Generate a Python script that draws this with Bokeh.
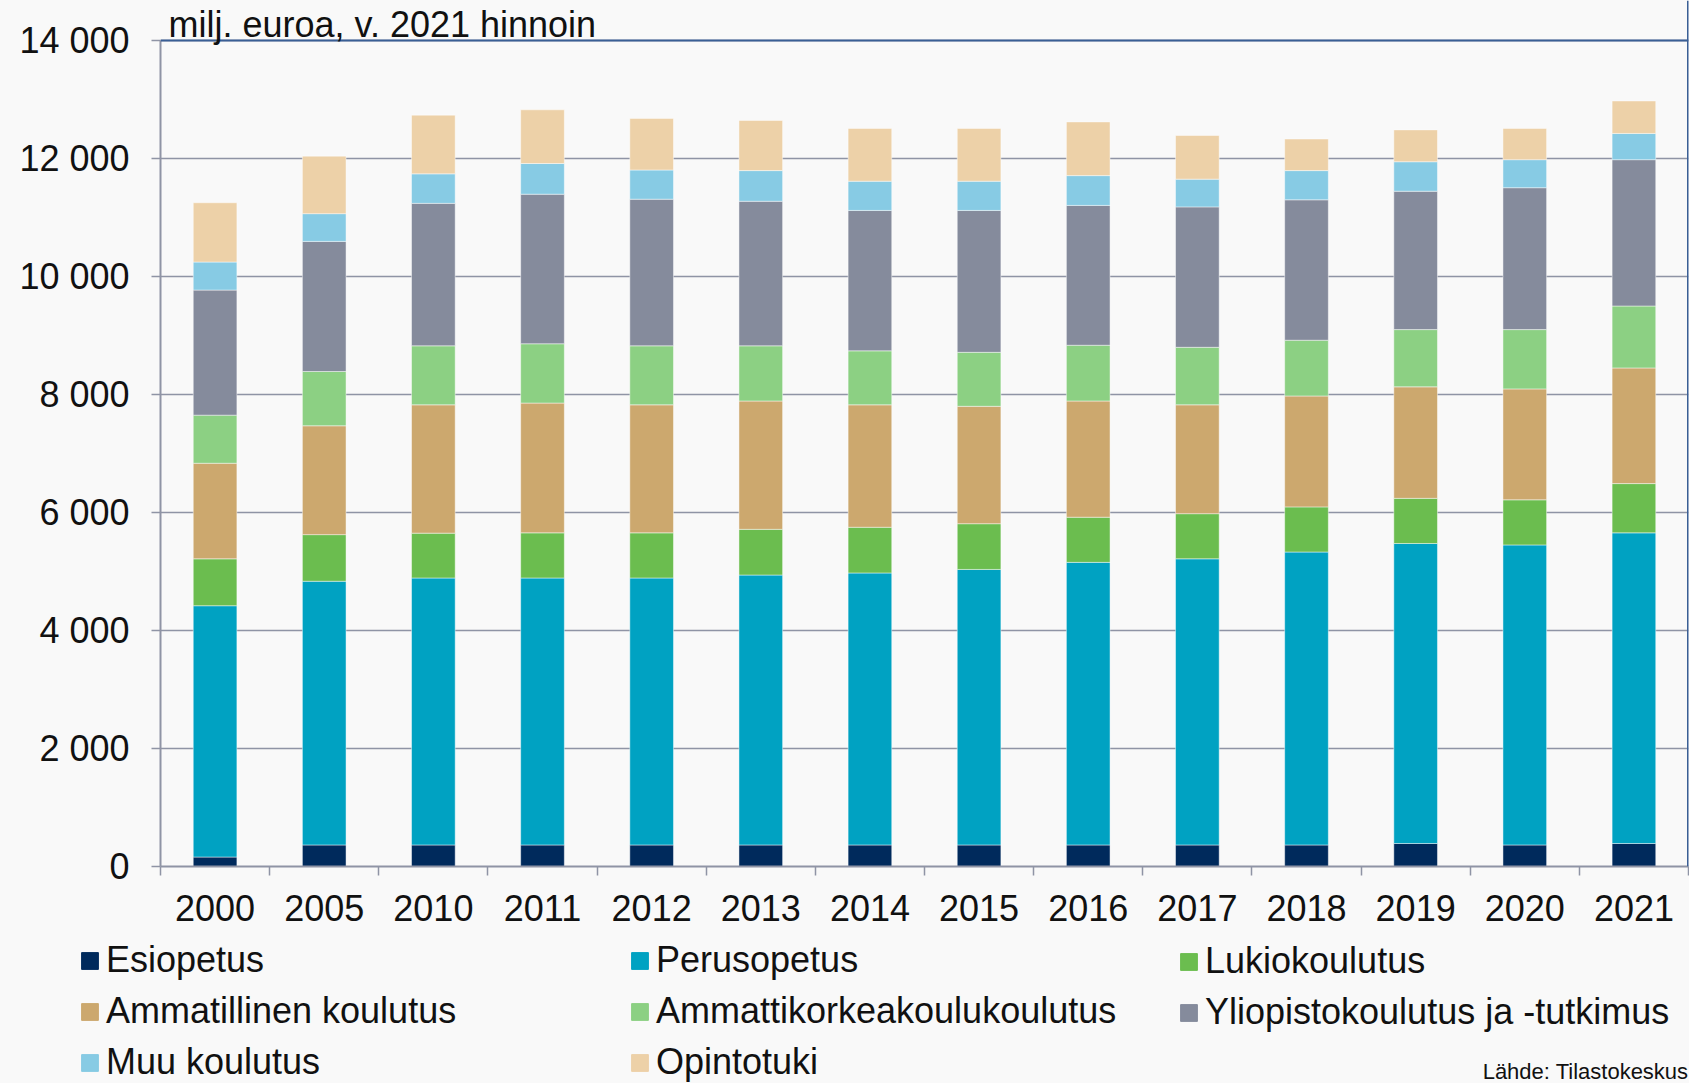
from bokeh.plotting import figure
from bokeh.layouts import column
from bokeh.models import (FixedTicker, CustomJSTickFormatter, Span, Label, Legend,
                          LegendItem, Range1d)
from bokeh.embed import file_html
from bokeh.resources import INLINE

years = ["2000", "2005", "2010", "2011", "2012", "2013", "2014",
         "2015", "2016", "2017", "2018", "2019", "2020", "2021"]
esiopetus    = [160, 365, 365, 365, 365, 365, 365, 365, 365, 365, 365, 390, 365, 390]
perusopetus  = [4260, 4470, 4525, 4525, 4525, 4575, 4610, 4670, 4790, 4850, 4965, 5085, 5085, 5265]
lukio        = [795, 790, 760, 765, 765, 775, 775, 775, 765, 765, 765, 765, 765, 835]
ammatillinen = [1620, 1845, 2175, 2200, 2170, 2175, 2075, 1990, 1970, 1845, 1880, 1890, 1880, 1960]
amk          = [815, 920, 1000, 1005, 1000, 935, 915, 915, 945, 975, 945, 970, 1005, 1050]
yliopisto    = [2120, 2205, 2415, 2535, 2485, 2450, 2380, 2405, 2370, 2380, 2380, 2345, 2405, 2480]
muu          = [475, 470, 500, 520, 495, 520, 495, 495, 505, 470, 495, 500, 475, 445]
opintotuki   = [1005, 975, 995, 910, 875, 850, 895, 895, 910, 740, 535, 540, 530, 550]

series_names = ["Esiopetus", "Perusopetus", "Lukiokoulutus", "Ammatillinen koulutus",
                "Ammattikorkeakoulukoulutus", "Yliopistokoulutus ja -tutkimus",
                "Muu koulutus", "Opintotuki"]
colors = ["#002a5c", "#00a2c2", "#6bbd4f", "#cca86e", "#8cd083", "#858b9c", "#87cbe4", "#edd1a8"]

y_ticks = [0, 2000, 4000, 6000, 8000, 10000, 12000, 14000]
y_labels = ["0", "2 000", "4 000", "6 000", "8 000", "10 000", "12 000", "14 000"]

title_text = "milj. euroa, v. 2021 hinnoin"
source_text = "Lähde: Tilastokeskus"

FONT = "Liberation Sans"
BG = "#f9f9f9"
GRID = "#8f94a5"
BORDER = "#3a5f95"
TXT = "#111111"

# layout sizes (px)
PLOT_H = 826      # 0 .. 14000
TOP_PAD = 40      # room for the unit title above 14000
FRAME_W = 1528
LEFT = 160
RIGHT = 1
TOTAL_W = LEFT + FRAME_W + RIGHT
AXIS_H = 70
LEG_H = 147

y_max = y_ticks[-1]
y_end = y_max * (PLOT_H + TOP_PAD) / PLOT_H

keys = ["esi", "perus", "lukio", "amm", "amk", "yo", "muu", "opt"]
data = dict(x=[i + 0.5 for i in range(len(years))],
            esi=esiopetus, perus=perusopetus, lukio=lukio, amm=ammatillinen,
            amk=amk, yo=yliopisto, muu=muu, opt=opintotuki)

p = figure(frame_width=FRAME_W, frame_height=PLOT_H + TOP_PAD,
           min_border_left=LEFT, min_border_top=0, min_border_right=RIGHT,
           min_border_bottom=AXIS_H,
           x_range=Range1d(0, len(years)), y_range=Range1d(0, y_end),
           output_backend="svg", toolbar_location=None,
           background_fill_color=BG, border_fill_color=BG, outline_line_color=None)

p.vbar_stack(keys, x="x", width=0.4, source=data, color=colors,
             line_color="#ffffff", line_alpha=0.45, line_width=1)

yax = p.yaxis[0]
yax.ticker = FixedTicker(ticks=y_ticks)
yax.bounds = (0, y_max)
yax.major_label_overrides = {t: l for t, l in zip(y_ticks, y_labels)}
yax.major_label_text_font = FONT
yax.major_label_text_font_size = "36px"
yax.major_label_text_color = TXT
yax.major_label_standoff = 22
yax.major_tick_out = 9
yax.major_tick_in = 0
yax.minor_tick_line_color = None
yax.major_tick_line_color = GRID
yax.major_tick_line_width = 1.5
yax.axis_line_color = GRID
yax.axis_line_width = 2

xax = p.xaxis[0]
xax.ticker = FixedTicker(ticks=[i + 0.5 for i in range(len(years))],
                         minor_ticks=list(range(len(years) + 1)))
xax.formatter = CustomJSTickFormatter(args=dict(years=years),
                                      code="return years[Math.floor(tick)];")
xax.major_label_text_font = FONT
xax.major_label_text_font_size = "36px"
xax.major_label_text_color = TXT
xax.major_label_standoff = 19
xax.major_tick_line_color = None
xax.major_tick_out = 0
xax.major_tick_in = 0
xax.minor_tick_out = 9
xax.minor_tick_in = 0
xax.minor_tick_line_color = GRID
xax.minor_tick_line_width = 1.5
xax.axis_line_color = GRID
xax.axis_line_width = 2

p.xgrid.grid_line_color = None
p.ygrid.ticker = FixedTicker(ticks=y_ticks)
p.ygrid.grid_line_color = GRID
p.ygrid.grid_line_width = 1.5

p.add_layout(Span(location=y_max, dimension="width", line_color=BORDER, line_width=2))
p.add_layout(Span(location=len(years), dimension="height", line_color=BORDER, line_width=3))

p.add_layout(Label(x=8, y=PLOT_H + TOP_PAD - 3, x_units="screen", y_units="screen",
                   text=title_text, text_font=FONT, text_font_size="36px", text_color=TXT,
                   text_baseline="top"))

# legend panel: its frame spans the full width so nothing is clipped
lf = figure(frame_width=TOTAL_W, frame_height=LEG_H, min_border=0,
            x_range=Range1d(0, 1), y_range=Range1d(0, 1),
            output_backend="svg", toolbar_location=None,
            background_fill_alpha=0, border_fill_color=BG, outline_line_color=None)
lf.axis.visible = False
lf.grid.visible = False

# legend-only renderers, placed entirely outside the visible ranges
dummies = [lf.vbar(x=[-5], bottom=[-3], top=[-2], width=0.4,
                   fill_color=c, line_color=c) for c in colors]

col_x = [79, 629, 1178]
row_pitch = 50
for c in range(3):
    idxs = [i for i in range(len(series_names)) if i % 3 == c]
    items = [LegendItem(label=series_names[i], renderers=[dummies[i]]) for i in idxs]
    lg = Legend(items=items, location=(col_x[c], (3 - len(idxs)) * row_pitch),
                orientation="vertical",
                label_text_font=FONT, label_text_font_size="36px", label_text_color=TXT,
                glyph_width=21, glyph_height=21, label_standoff=6,
                label_height=40, spacing=row_pitch - 41, padding=0, margin=0,
                border_line_color=None, background_fill_alpha=0)
    lf.add_layout(lg, "center")

# the label's screen x is measured from the aligned plot frame (left edge at LEFT)
lf.add_layout(Label(x=FRAME_W, y=25, x_units="screen", y_units="screen", text=source_text,
                    text_font=FONT, text_font_size="22px", text_color=TXT,
                    text_align="right", text_baseline="top"))

layout = column(p, lf, spacing=0, styles={"background-color": BG})
open("out.html", "w").write(file_html(layout, INLINE))
